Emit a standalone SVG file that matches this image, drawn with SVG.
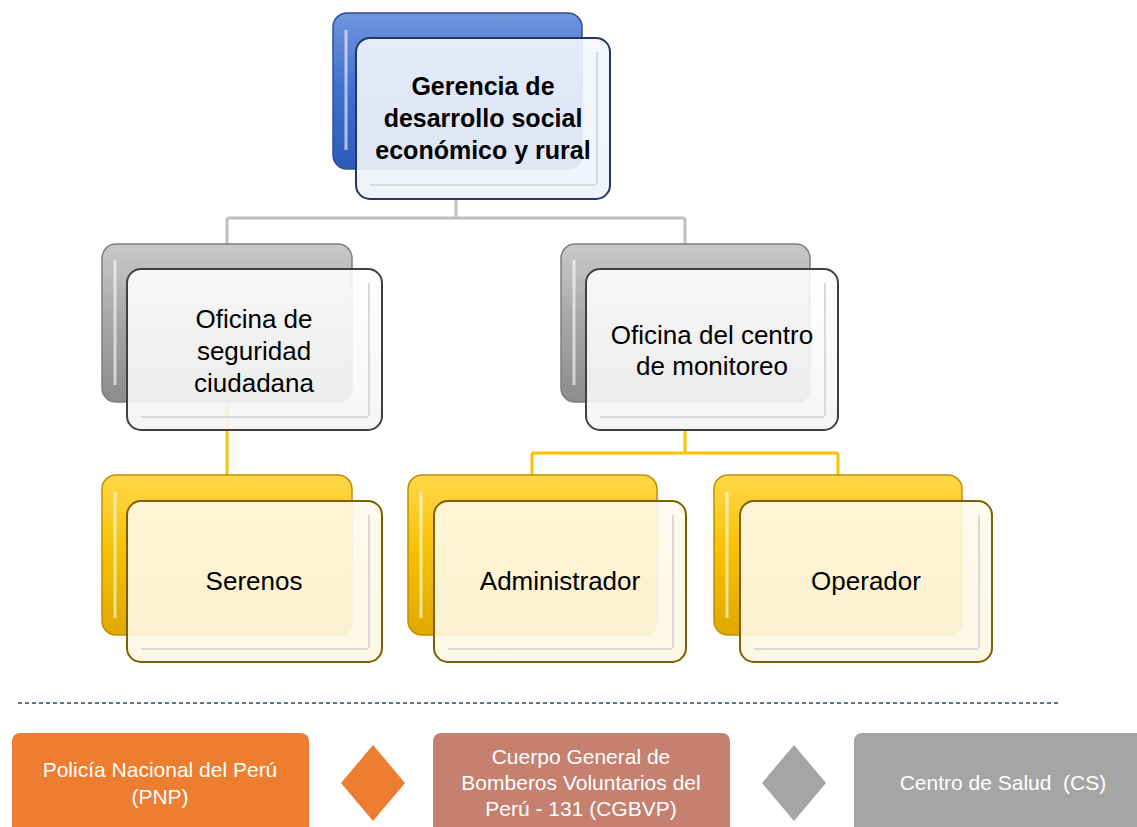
<svg xmlns="http://www.w3.org/2000/svg" width="1137" height="827" viewBox="0 0 1137 827">
<defs>
<linearGradient id="gBlue" x1="0" y1="0" x2="0" y2="1"><stop offset="0" stop-color="#6f95dc"/><stop offset="0.5" stop-color="#3f6fcf"/><stop offset="1" stop-color="#2c5bb8"/></linearGradient>
<linearGradient id="gGray" x1="0" y1="0" x2="0" y2="1"><stop offset="0" stop-color="#c9c9c9"/><stop offset="0.5" stop-color="#a6a6a6"/><stop offset="1" stop-color="#8c8c8c"/></linearGradient>
<linearGradient id="gGold" x1="0" y1="0" x2="0" y2="1"><stop offset="0" stop-color="#ffd84a"/><stop offset="0.5" stop-color="#f5c000"/><stop offset="1" stop-color="#e0a800"/></linearGradient>
<linearGradient id="gFront" x1="0" y1="0" x2="0" y2="1"><stop offset="0" stop-color="#ffffff" stop-opacity="0.88"/><stop offset="1" stop-color="#f4f4f4" stop-opacity="0.92"/></linearGradient>
<linearGradient id="gFrontY" x1="0" y1="0" x2="0" y2="1"><stop offset="0" stop-color="#fffaea" stop-opacity="0.9"/><stop offset="1" stop-color="#fdf6e2" stop-opacity="0.92"/></linearGradient>
<linearGradient id="gFrontB" x1="0" y1="0" x2="0" y2="1"><stop offset="0" stop-color="#f3f6fc" stop-opacity="0.9"/><stop offset="1" stop-color="#eef2fa" stop-opacity="0.92"/></linearGradient>
</defs>
<style>
.lbl{font-family:"Liberation Sans",Arial,sans-serif;fill:#000;text-anchor:middle;font-size:26px}
.bold{font-weight:bold;font-size:25px}
.wt{font-family:"Liberation Sans",Arial,sans-serif;fill:#fff;text-anchor:middle;font-size:21px}
.hl{fill:none;stroke:#fff;stroke-opacity:0.6;stroke-width:3}
.conG{fill:none;stroke:#bfbfbf;stroke-width:3}
.conY{fill:none;stroke:#ffc000;stroke-width:3}
</style>
<rect width="1137" height="827" fill="#fff"/>

<g id="connectors">
<path class="conG" d="M456 199 V218 M227 218 H685 M227 218 V245 M685 218 V245"/>
<path class="conY" d="M227 402 V476 M685 430 V453 M532 453 H838 M532 453 V476 M838 453 V476"/>
</g>

<g id="n-gerencia">
<rect x="333" y="13" width="249" height="156" rx="14" fill="url(#gBlue)" stroke="#2f528f" stroke-width="1.5"/>
<path class="hl" d="M346 30 V150"/>
<rect x="356" y="38" width="254" height="161" rx="14" fill="url(#gFrontB)" stroke="#1f3864" stroke-width="2"/>
<path d="M370 185 H596 M597 52 V184" fill="none" stroke="#d9d9d9" stroke-width="2"/>
<text class="lbl bold" x="483" y="95">Gerencia de</text>
<text class="lbl bold" x="483" y="127">desarrollo social</text>
<text class="lbl bold" x="483" y="159">económico y rural</text>
</g>

<g id="n-seguridad">
<rect x="102" y="244" width="250" height="158" rx="14" fill="url(#gGray)" stroke="#7f7f7f" stroke-width="1.5"/>
<path class="hl" d="M115 260 V385"/>
<rect x="127" y="269" width="255" height="161" rx="14" fill="url(#gFront)" stroke="#404040" stroke-width="2"/>
<path d="M141 417 H368 M369 283 V416" fill="none" stroke="#d9d9d9" stroke-width="2"/>
<text class="lbl" x="254" y="328">Oficina de</text>
<text class="lbl" x="254" y="360">seguridad</text>
<text class="lbl" x="254" y="392">ciudadana</text>
</g>

<g id="n-monitoreo">
<rect x="561" y="244" width="249" height="158" rx="14" fill="url(#gGray)" stroke="#7f7f7f" stroke-width="1.5"/>
<path class="hl" d="M574 260 V385"/>
<rect x="586" y="269" width="252" height="161" rx="14" fill="url(#gFront)" stroke="#404040" stroke-width="2"/>
<path d="M600 417 H824 M825 283 V416" fill="none" stroke="#d9d9d9" stroke-width="2"/>
<text class="lbl" x="712" y="344">Oficina del centro</text>
<text class="lbl" x="712" y="375">de monitoreo</text>
</g>

<g id="n-serenos">
<rect x="102" y="475" width="250" height="160" rx="14" fill="url(#gGold)" stroke="#bf9000" stroke-width="1.5"/>
<path class="hl" d="M115 492 V618"/>
<rect x="127" y="501" width="255" height="161" rx="14" fill="url(#gFrontY)" stroke="#7f6000" stroke-width="2"/>
<path d="M141 649 H368 M369 515 V648" fill="none" stroke="#d9d9d9" stroke-width="2"/>
<text class="lbl" x="254" y="590">Serenos</text>
</g>

<g id="n-admin">
<rect x="408" y="475" width="249" height="160" rx="14" fill="url(#gGold)" stroke="#bf9000" stroke-width="1.5"/>
<path class="hl" d="M421 492 V618"/>
<rect x="434" y="501" width="252" height="161" rx="14" fill="url(#gFrontY)" stroke="#7f6000" stroke-width="2"/>
<path d="M448 649 H672 M673 515 V648" fill="none" stroke="#d9d9d9" stroke-width="2"/>
<text class="lbl" x="560" y="590">Administrador</text>
</g>

<g id="n-operador">
<rect x="714" y="475" width="248" height="160" rx="14" fill="url(#gGold)" stroke="#bf9000" stroke-width="1.5"/>
<path class="hl" d="M727 492 V618"/>
<rect x="740" y="501" width="252" height="161" rx="14" fill="url(#gFrontY)" stroke="#7f6000" stroke-width="2"/>
<path d="M754 649 H978 M979 515 V648" fill="none" stroke="#d9d9d9" stroke-width="2"/>
<text class="lbl" x="866" y="590">Operador</text>
</g>

<line x1="18" y1="703" x2="1058" y2="703" stroke="#2f3f6f" stroke-width="1.5" stroke-dasharray="4 3"/>

<g id="n-pnp">
<rect x="12" y="733" width="297" height="110" rx="8" fill="#ed7d31"/>
<text class="wt" x="160" y="777">Policía Nacional del Perú</text>
<text class="wt" x="160" y="804">(PNP)</text>
</g>
<g id="d-orange"><polygon points="373,745 405,783 373,821 341,783" fill="#ed7d31"/></g>
<g id="n-cgbvp">
<rect x="433" y="733" width="297" height="110" rx="8" fill="#c5806f"/>
<text class="wt" x="581" y="764">Cuerpo General de</text>
<text class="wt" x="581" y="790">Bomberos Voluntarios del</text>
<text class="wt" x="581" y="816">Perú - 131 (CGBVP)</text>
</g>
<g id="d-gray"><polygon points="794,745 826,783 794,821 762,783" fill="#a5a5a5"/></g>
<g id="n-cs">
<rect x="854" y="733" width="297" height="110" rx="8" fill="#a5a5a5"/>
<text class="wt" x="1003" y="790" xml:space="preserve">Centro de Salud  (CS)</text>
</g>
</svg>
